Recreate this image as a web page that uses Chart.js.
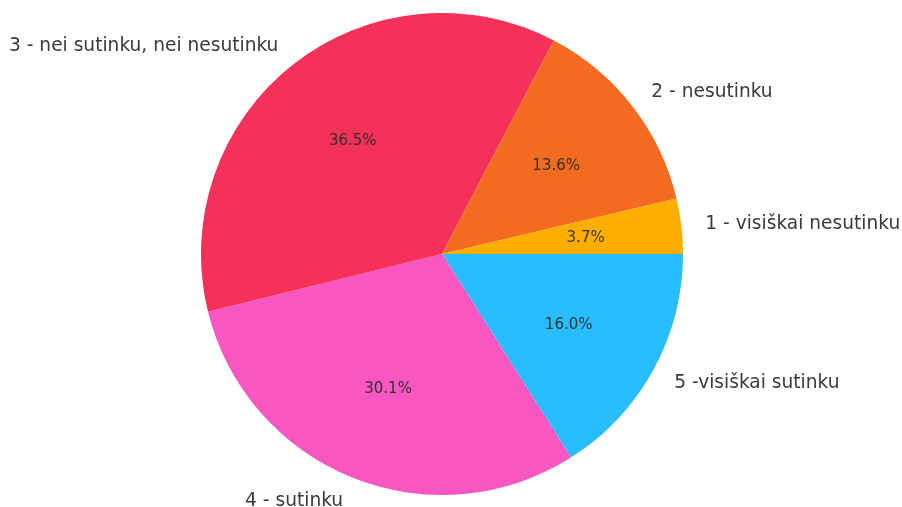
<!DOCTYPE html>
<html>
<head>
<meta charset="utf-8">
<script src="https://cdn.jsdelivr.net/npm/chart.js@4"></script>
<style>
  html, body { margin: 0; padding: 0; background: #fff; }
  #wrap { width: 902px; height: 507px; position: relative; }
</style>
</head>
<body>
<div id="wrap"><canvas id="pieChart"></canvas></div>
<script>
const categories = [
  '1 - visiškai nesutinku',
  '2 - nesutinku',
  '3 - nei sutinku, nei nesutinku',
  '4 - sutinku',
  '5 -visiškai sutinku'
];
const shares = [3.7, 13.6, 36.5, 30.1, 16.0];
const colors = ['#ffae00', '#f26b21', '#f43158', '#f857c1', '#29bdfd'];

// matplotlib draws counter-clockwise from 3 o'clock, chart.js goes clockwise,
// so feed the slices in reverse
const order = [4, 3, 2, 1, 0];
const labels = order.map(i => categories[i]);
const data = order.map(i => shares[i]);
const bg = order.map(i => colors[i]);

const pieText = {
  id: 'pieText',
  afterDatasetsDraw(chart) {
    const ctx = chart.ctx;
    const arcs = chart.getDatasetMeta(0).data;
    ctx.save();
    ctx.textBaseline = 'middle';
    arcs.forEach((arc, i) => {
      const p = arc.getProps(['x', 'y', 'startAngle', 'endAngle', 'outerRadius'], true);
      const mid = (p.startAngle + p.endAngle) / 2;
      const cx = Math.cos(mid), cy = Math.sin(mid);
      // percentage inside
      ctx.font = '15px "DejaVu Sans"';
      ctx.fillStyle = 'rgba(45,45,45,0.95)';
      ctx.textAlign = 'center';
      ctx.fillText(data[i].toFixed(1) + '%', p.x + cx * p.outerRadius * 0.6, p.y + cy * p.outerRadius * 0.6 + 1);
      // category label outside
      ctx.font = '18.6px "DejaVu Sans"';
      ctx.fillStyle = '#3a3a3a';
      ctx.textAlign = cx > 0 ? 'left' : 'right';
      ctx.fillText(labels[i], p.x + cx * p.outerRadius * 1.1, p.y + cy * p.outerRadius * 1.1 + 1);
    });
    ctx.restore();
  }
};

new Chart(document.getElementById('pieChart'), {
  type: 'pie',
  data: {
    labels: labels,
    datasets: [{
      data: data,
      backgroundColor: bg,
      borderWidth: 0
    }]
  },
  options: {
    responsive: true,
    maintainAspectRatio: false,
    animation: false,
    rotation: 90,
    layout: { padding: { left: 201, right: 219, top: 13, bottom: 12 } },
    plugins: {
      legend: { display: false },
      tooltip: { enabled: false }
    }
  },
  plugins: [pieText]
});
</script>
</body>
</html>
